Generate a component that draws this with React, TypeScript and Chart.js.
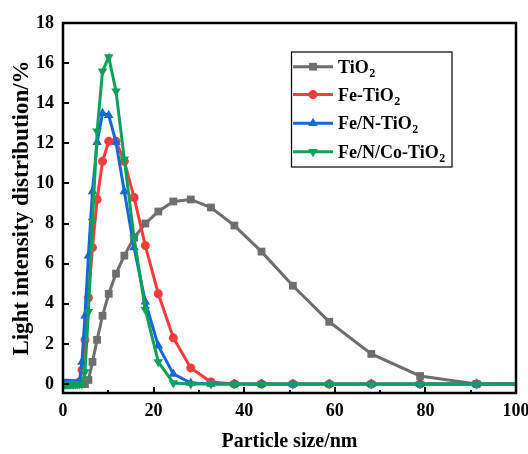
import React, { useEffect, useRef } from "react";
import { Chart, registerables } from "chart.js";

Chart.register(...registerables);

// Particle size bins (nm)
const sizes = [0.4, 0.4632, 0.5365, 0.6213, 0.7195, 0.8332, 0.9649, 1.117, 1.294, 1.499, 1.736, 2.01, 2.328, 2.696, 3.122, 3.615, 4.187, 4.849, 5.615, 6.503, 7.531, 8.721, 10.1, 11.7, 13.54, 15.69, 18.17, 21.04, 24.36, 28.21, 32.67, 37.84, 43.82, 50.75, 58.77, 68.06, 78.82, 91.28, 105.7];

const tio2 = [0, 0, 0, 0, 0, 0, 0, 0, 0, 0, 0, 0, 0, 0, 0, 0, 0, 0, 0.2, 1.1, 2.2, 3.4, 4.5, 5.5, 6.4, 7.3, 8.0, 8.6, 9.1, 9.2, 8.8, 7.9, 6.6, 4.9, 3.1, 1.5, 0.4, 0, 0];
const feTio2 = [0, 0, 0, 0, 0, 0, 0, 0, 0, 0, 0, 0, 0, 0, 0, 0.1, 0.7, 2.2, 4.3, 6.8, 9.2, 11.1, 12.1, 12.1, 11.1, 9.3, 6.9, 4.5, 2.3, 0.8, 0.1, 0, 0, 0, 0, 0, 0, 0, 0];
const feNTio2 = [0, 0, 0, 0, 0, 0, 0, 0, 0, 0, 0, 0, 0, 0, 0, 0.1, 1.1, 3.4, 6.4, 9.6, 12.05, 13.5, 13.4, 12.05, 9.6, 6.8, 4.1, 1.9, 0.5, 0.05, 0, 0, 0, 0, 0, 0, 0, 0, 0];
const feNCoTio2 = [0, 0, 0, 0, 0, 0, 0, 0, 0, 0, 0, 0, 0, 0, 0, 0, 0, 0.6, 3.6, 8.1, 12.6, 15.6, 16.3, 14.6, 11.2, 7.3, 3.7, 1.1, 0.05, 0, 0, 0, 0, 0, 0, 0, 0, 0, 0];

const seriesNames = ["TiO2", "Fe-TiO2", "Fe/N-TiO2", "Fe/N/Co-TiO2"];
const seriesValues = [tio2, feTio2, feNTio2, feNCoTio2];
const seriesColors = ["#6e6e6e", "#f83c3c", "#1766dc", "#0fa15b"];
const seriesMarkers = ["rect", "circle", "triangle", "triangle"];
const seriesRotation = [0, 0, 0, 180];
const seriesRadius = [5.5, 4.5, 5.5, 5.5];

const yTicks = [0, 2, 4, 6, 8, 10, 12, 14, 16, 18];
const xTicks = [0, 20, 40, 60, 80, 100];
const xMinorTicks = [10, 30, 50, 70, 90];

const FONT = "'Liberation Serif', 'Times New Roman', serif";

function drawMarker(ctx: CanvasRenderingContext2D, style: string, rot: number, r: number, x: number, y: number, color: string) {
  ctx.save();
  ctx.fillStyle = color;
  ctx.translate(x, y);
  ctx.rotate((rot * Math.PI) / 180);
  ctx.beginPath();
  if (style === "rect") {
    const s = r * Math.SQRT1_2;
    ctx.rect(-s, -s, 2 * s, 2 * s);
  } else if (style === "circle") {
    ctx.arc(0, 0, r, 0, Math.PI * 2);
  } else {
    const h = r * 1.5;
    const e = r * Math.sqrt(3);
    ctx.moveTo(0, -r);
    ctx.lineTo(e / 2, -r + h);
    ctx.lineTo(-e / 2, -r + h);
    ctx.closePath();
  }
  ctx.fill();
  ctx.restore();
}

const framePlugin = {
  id: "frame",
  afterDatasetsDraw(chart: any) {
    const { ctx, chartArea: a, scales } = chart;
    ctx.save();
    ctx.strokeStyle = "#000";
    ctx.lineWidth = 2.5;
    ctx.strokeRect(a.left, a.top, a.right - a.left, a.bottom - a.top);
    ctx.lineWidth = 2;
    ctx.beginPath();
    yTicks.forEach((v) => {
      const y = Math.round(scales.y.getPixelForValue(v));
      ctx.moveTo(a.left, y);
      ctx.lineTo(a.left + 6, y);
    });
    xTicks.forEach((v) => {
      const x = Math.round(scales.x.getPixelForValue(v));
      ctx.moveTo(x, a.bottom);
      ctx.lineTo(x, a.bottom - 6);
    });
    xMinorTicks.forEach((v) => {
      const x = Math.round(scales.x.getPixelForValue(v));
      ctx.moveTo(x, a.bottom);
      ctx.lineTo(x, a.bottom - 3);
    });
    ctx.stroke();
    ctx.restore();
  },
};

const legendPlugin = {
  id: "customLegend",
  afterDraw(chart: any) {
    const { ctx } = chart;
    const left = 291.5, top = 52, right = 452, bottom = 167;
    ctx.save();
    ctx.fillStyle = "#fff";
    ctx.fillRect(left, top, right - left, bottom - top);
    ctx.strokeStyle = "#000";
    ctx.lineWidth = 1.2;
    ctx.strokeRect(left, top, right - left, bottom - top);
    const rowY = [66.7, 94.6, 123.2, 151.7];
    seriesNames.forEach((name, i) => {
      const y = rowY[i];
      ctx.strokeStyle = seriesColors[i];
      ctx.lineWidth = 3;
      ctx.beginPath();
      ctx.moveTo(293, y);
      ctx.lineTo(333, y);
      ctx.stroke();
      drawMarker(ctx, seriesMarkers[i], seriesRotation[i], seriesRadius[i], 313, y, seriesColors[i]);
      const m = name.match(/^(.*?)(\d+)$/);
      const main = m ? m[1] : name;
      const sub = m ? m[2] : "";
      ctx.fillStyle = "#000";
      ctx.textBaseline = "alphabetic";
      ctx.textAlign = "left";
      ctx.font = `bold 18px ${FONT}`;
      ctx.fillText(main, 338, y + 6);
      const w = ctx.measureText(main).width;
      ctx.font = `bold 12px ${FONT}`;
      ctx.fillText(sub, 338 + w + 0.5, y + 10);
    });
    ctx.restore();
  },
};

export default function App() {
  const canvasRef = useRef<HTMLCanvasElement | null>(null);

  useEffect(() => {
    const canvas = canvasRef.current;
    if (!canvas) return;
    const datasets = seriesNames.map((name, i) => ({
      label: name,
      data: sizes.map((s, j) => ({ x: s, y: seriesValues[i][j] })),
      borderColor: seriesColors[i],
      backgroundColor: seriesColors[i],
      borderWidth: 3,
      pointStyle: seriesMarkers[i],
      rotation: seriesRotation[i],
      pointRadius: seriesRadius[i],
      pointBorderWidth: 0,
      tension: 0,
      order: seriesNames.length - 1 - i,
    }));

    const chart = new Chart(canvas, {
      type: "line",
      data: { datasets },
      plugins: [framePlugin, legendPlugin],
      options: {
        animation: false,
        responsive: false,
        maintainAspectRatio: false,
        layout: { padding: { left: 0, top: 23, right: 12, bottom: 0 } },
        plugins: {
          legend: { display: false },
          tooltip: { enabled: false },
        },
        scales: {
          x: {
            type: "linear",
            min: 0,
            max: 100,
            afterBuildTicks: (scale: any) => {
              scale.ticks = xTicks.map((v) => ({ value: v }));
            },
            afterFit: (scale: any) => {
              scale.height = 61;
              scale.paddingLeft = 0;
              scale.paddingRight = 0;
            },
            grid: { display: false, drawTicks: false },
            border: { display: false },
            ticks: {
              padding: 8,
              color: "#000",
              maxRotation: 0,
              autoSkip: false,
              font: { family: FONT, size: 18, weight: "bold" },
            },
            title: {
              display: true,
              text: "Particle size/nm",
              color: "#000",
              padding: { top: 0, bottom: 0 },
              font: { family: FONT, size: 20, weight: "bold" },
            },
          },
          y: {
            type: "linear",
            min: -0.45,
            max: 18,
            afterBuildTicks: (scale: any) => {
              scale.ticks = yTicks.map((v) => ({ value: v }));
            },
            afterFit: (scale: any) => {
              scale.width = 63;
              scale.paddingTop = 0;
              scale.paddingBottom = 0;
            },
            grid: { display: false, drawTicks: false },
            border: { display: false },
            ticks: {
              padding: 9,
              color: "#000",
              autoSkip: false,
              font: { family: FONT, size: 18, weight: "bold" },
            },
            title: {
              display: true,
              text: "Light intensity distribution/%",
              color: "#000",
              padding: { top: 8, bottom: 0 },
              font: { family: FONT, size: 23, weight: "bold" },
            },
          },
        },
      } as any,
    });
    return () => chart.destroy();
  }, []);

  return (
    <div style={{ position: "absolute", left: 0, top: 0, width: 528, height: 454, background: "#fff" }}>
      <canvas ref={canvasRef} width={528} height={454} style={{ display: "block" }} />
    </div>
  );
}
